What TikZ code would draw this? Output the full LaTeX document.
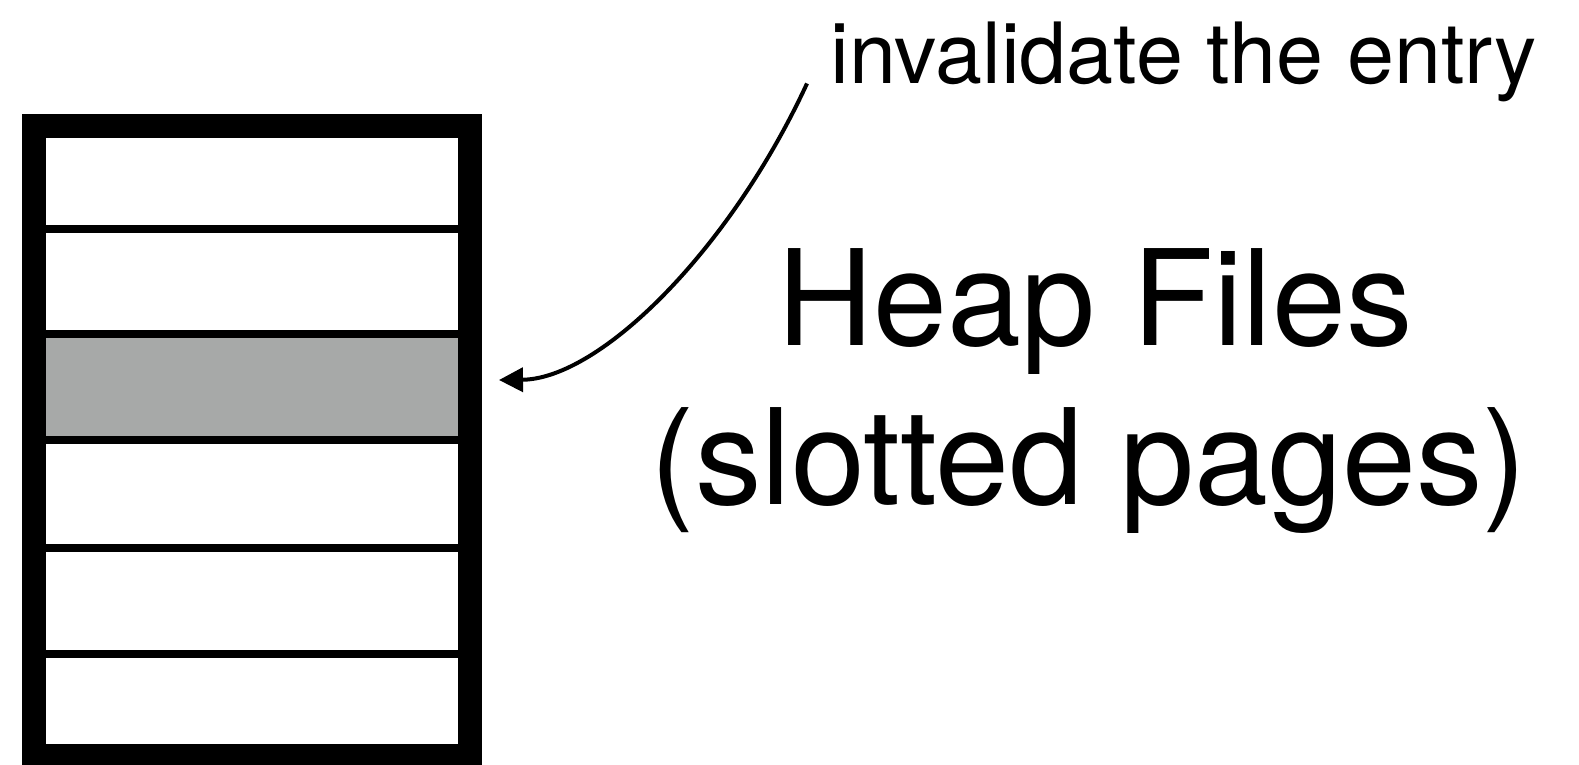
\documentclass[tikz,border=0pt]{standalone}
\usepackage{fontspec}
\setmainfont{TeX Gyre Heros}
\usepackage{tikz}
\usetikzlibrary{arrows.meta}
\definecolor{slotgray}{HTML}{A7A9A8}

\begin{document}
\begin{tikzpicture}[x=0.5pt,y=-0.5pt,
    note/.style={inner sep=0pt,anchor=base west,font=\fontsize{42.25pt}{50pt}\selectfont},
    title/.style={inner sep=0pt,anchor=base,font=\fontsize{66.5pt}{80pt}\selectfont},
    sep/.style={line width=4pt}]
            \useasboundingbox (0,0) rectangle (1579,765);

            % The page with its slots
            \fill[slotgray] (46,338) rectangle (458,436);
            \draw[sep] (46,228.5) -- (458,228.5);
            \draw[sep] (46,333.7) -- (458,333.7);
            \draw[sep] (46,440.1) -- (458,440.1);
            \draw[sep] (46,547.8) -- (458,547.8);
            \draw[sep] (46,654.3) -- (458,654.3);
            \draw[line width=12pt] (34,126) rectangle (470,756);

            % The texts
            \node[note] (inv) at (830,83.5) {invalidate the entry};
            \node[title] (heap) at (1095,345) {Heap Files};
            \node[title] (slotted) at (1089,504) {(slotted pages)};

            % The arrow
            \coordinate (from) at ([xshift=-11.5pt]inv.base west);
            \coordinate (slot) at (499,380);
            \draw[line width=2pt,-{Triangle[length=12pt,width=12pt]}] (from) .. controls (730,250) and (600,379) .. (slot);
        \end{tikzpicture}
\end{document}
